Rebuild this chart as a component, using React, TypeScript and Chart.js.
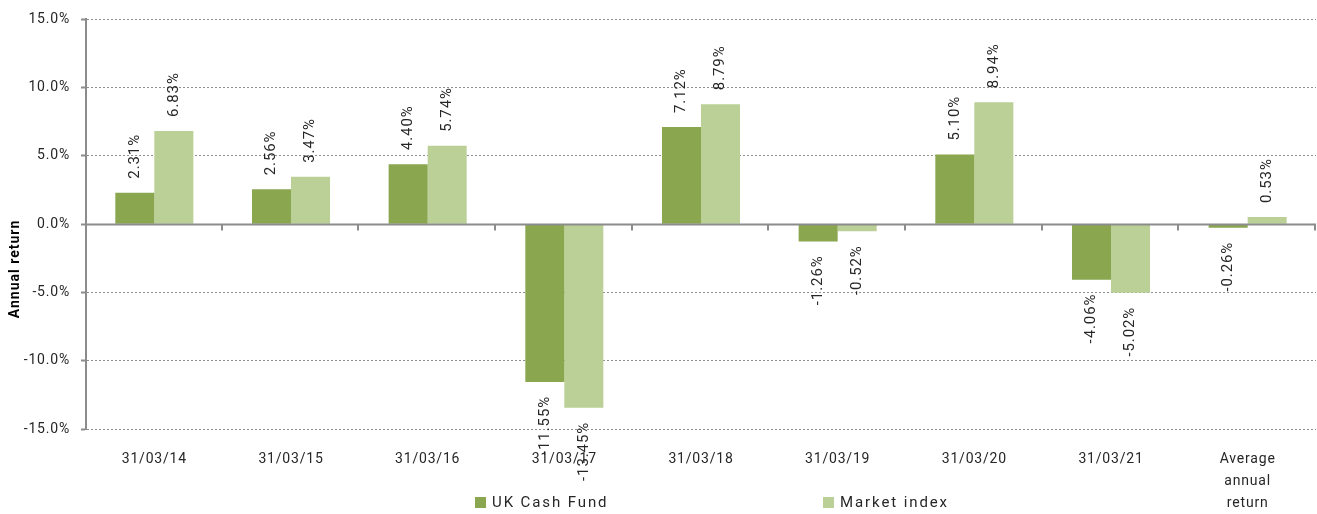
import React, { useEffect, useRef } from 'react';
import { Chart, registerables } from 'chart.js';

Chart.register(...registerables);

const categories: (string | string[])[] = [
  '31/03/14', '31/03/15', '31/03/16', '31/03/17', '31/03/18',
  '31/03/19', '31/03/20', '31/03/21', ['Average', 'annual', 'return'],
];
const ukCashFund = [2.31, 2.56, 4.4, -11.55, 7.12, -1.26, 5.1, -4.06, -0.26];
const marketIndex = [6.83, 3.47, 5.74, -13.45, 8.79, -0.52, 8.94, -5.02, 0.53];
const seriesNames = ['UK Cash Fund', 'Market index'];
const seriesColors = ['#8AA64F', '#BAD097'];
const yMin = -15;
const yMax = 15;
const yStep = 5;
const yTitle = 'Annual return';

const AXIS = '#8C8C8C';
const TEXT = '#262626';

const spacingPlugin = {
  id: 'spacing',
  beforeDraw(chart: any) {
    chart.ctx.letterSpacing = '0.8px';
  },
};

const overlayPlugin = {
  id: 'overlay',
  afterDatasetsDraw(chart: any) {
    const ctx = chart.ctx;
    const y = chart.scales.y;
    const area = chart.chartArea;
    const y0 = Math.round(y.getPixelForValue(0)) + 0.5;
    ctx.save();
    ctx.letterSpacing = '0px';
    ctx.strokeStyle = AXIS;
    ctx.lineWidth = 2;
    ctx.setLineDash([]);
    ctx.beginPath();
    ctx.moveTo(area.left, y0);
    ctx.lineTo(area.right, y0);
    ctx.stroke();
    const n = categories.length;
    const w = (area.right - area.left) / n;
    for (let i = 1; i <= n; i++) {
      const px = Math.round(area.left + i * w) - 1;
      ctx.beginPath();
      ctx.moveTo(px, y0);
      ctx.lineTo(px, y0 + 6);
      ctx.stroke();
    }
    ctx.restore();

    ctx.save();
    ctx.letterSpacing = '0.9px';
    ctx.font = '15px Roboto';
    ctx.fillStyle = TEXT;
    ctx.textBaseline = 'middle';
    chart.data.datasets.forEach((ds: any, di: number) => {
      const meta = chart.getDatasetMeta(di);
      meta.data.forEach((bar: any, i: number) => {
        const v = ds.data[i];
        const txt = v.toFixed(2) + '%';
        ctx.save();
        if (v >= 0) {
          ctx.translate(bar.x, bar.y - 14);
          ctx.rotate(-Math.PI / 2);
          ctx.textAlign = 'left';
        } else {
          ctx.translate(bar.x, bar.y + 14);
          ctx.rotate(-Math.PI / 2);
          ctx.textAlign = 'right';
        }
        ctx.fillText(txt, 0, 0);
        ctx.restore();
      });
    });
    ctx.restore();
  },
  afterDraw(chart: any) {
    const ctx = chart.ctx;
    ctx.save();
    ctx.letterSpacing = '1px';
    ctx.font = 'bold 14px Roboto';
    ctx.fillStyle = '#000';
    ctx.translate(15, 269);
    ctx.rotate(-Math.PI / 2);
    ctx.textAlign = 'center';
    ctx.textBaseline = 'middle';
    ctx.fillText(yTitle, 0, 0);
    ctx.restore();

    ctx.save();
    ctx.letterSpacing = '1.9px';
    ctx.font = '15px Roboto';
    ctx.textBaseline = 'middle';
    ctx.textAlign = 'left';
    const legendX = [475, 823];
    seriesNames.forEach((name, i) => {
      ctx.fillStyle = seriesColors[i];
      ctx.fillRect(legendX[i], 497, 11, 11);
      ctx.fillStyle = TEXT;
      ctx.fillText(name, legendX[i] + 17, 503);
    });
    ctx.restore();
  },
};

export default function App() {
  const ref = useRef<HTMLCanvasElement | null>(null);
  useEffect(() => {
    if (!ref.current) return;
    Chart.defaults.font.family = 'Roboto';
    const chart = new Chart(ref.current, {
      type: 'bar',
      data: {
        labels: categories,
        datasets: [
          { label: seriesNames[0], data: ukCashFund, backgroundColor: seriesColors[0], borderWidth: 0 },
          { label: seriesNames[1], data: marketIndex, backgroundColor: seriesColors[1], borderWidth: 0 },
        ],
      },
      options: {
        responsive: false,
        animation: false,
        layout: { padding: { top: 16, right: 1, left: 0, bottom: 0 } },
        datasets: { bar: { categoryPercentage: 0.571, barPercentage: 1 } },
        plugins: { legend: { display: false }, tooltip: { enabled: false } },
        scales: {
          x: {
            grid: { display: false, drawTicks: false },
            border: { display: false },
            ticks: {
              autoSkip: false,
              maxRotation: 0,
              minRotation: 0,
              padding: 20,
              color: TEXT,
              font: { size: 14, lineHeight: 1.55 },
            },
            afterFit(scale: any) {
              scale.height = 85;
            },
          },
          y: {
            min: yMin,
            max: yMax,
            ticks: {
              stepSize: yStep,
              padding: 11,
              color: TEXT,
              font: { size: 14 },
              callback: (v: any) => Number(v).toFixed(1) + '%',
            },
            grid: {
              color: (c: any) => (c.tick && c.tick.value === 0 ? 'rgba(0,0,0,0)' : '#8E8E8E'),
              lineWidth: 1,
              tickLength: 5,
              tickColor: AXIS,
              tickWidth: 2,
            },
            border: { display: true, color: AXIS, width: 2, dash: [2, 2] },
            afterFit(scale: any) {
              scale.width = 86;
            },
          },
        },
      },
      plugins: [spacingPlugin, overlayPlugin],
    } as any);
    return () => chart.destroy();
  }, []);
  return (
    <div style={{ position: 'absolute', left: 0, top: 0, width: 1317, height: 514, background: '#fff' }}>
      <canvas ref={ref} width={1317} height={514} style={{ display: 'block' }} />
    </div>
  );
}
